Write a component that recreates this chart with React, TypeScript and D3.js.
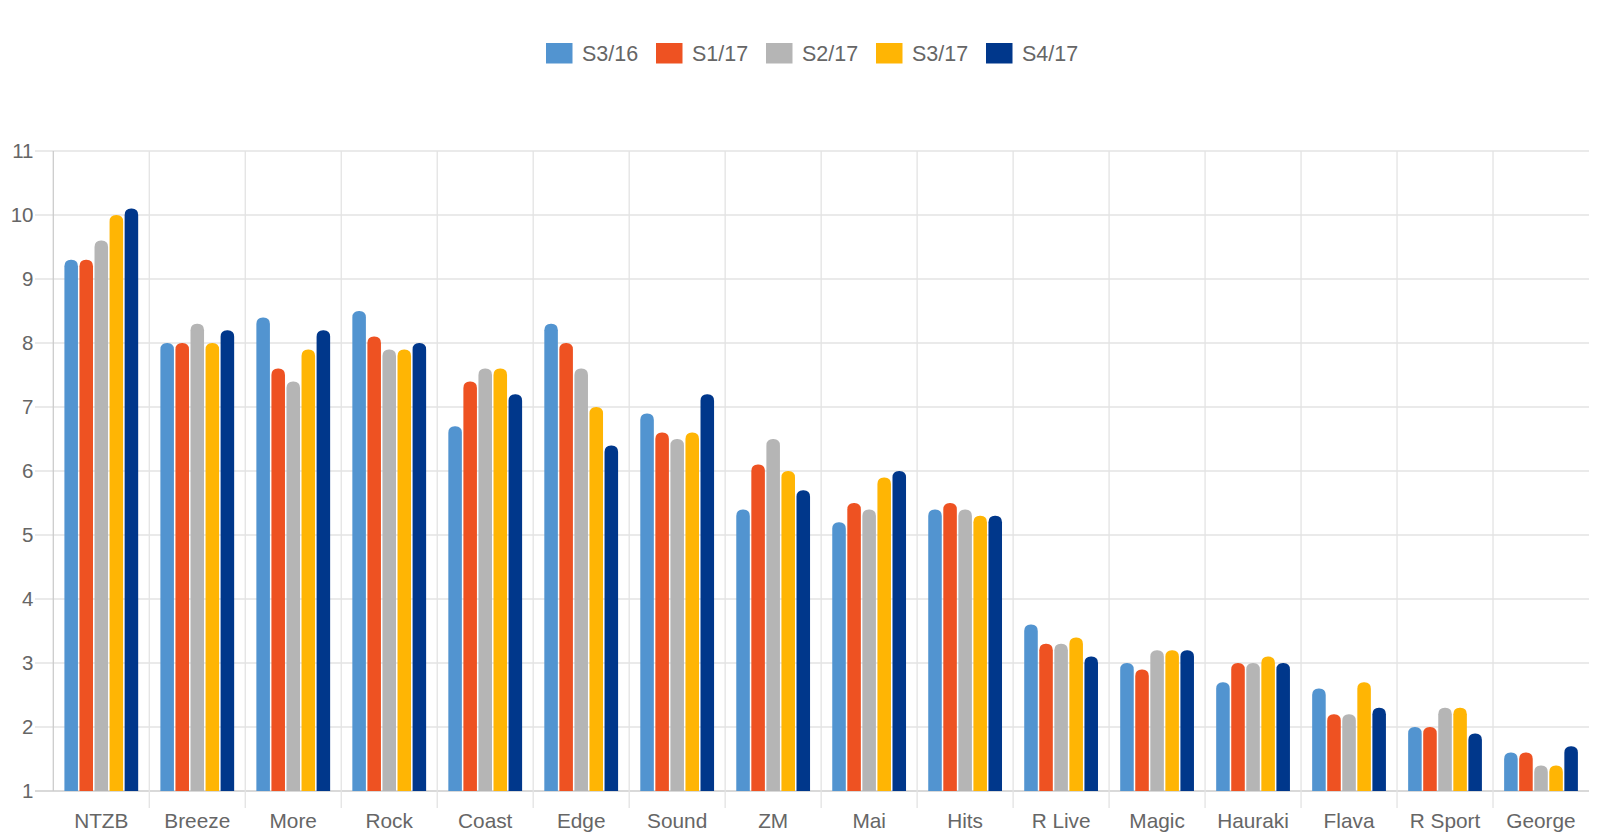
import React from "react";
import * as d3 from "d3";

const categories = ["NTZB", "Breeze", "More", "Rock", "Coast", "Edge", "Sound", "ZM", "Mai", "Hits", "R Live", "Magic", "Hauraki", "Flava", "R Sport", "George"];
const seriesNames = ["S3/16", "S1/17", "S2/17", "S3/17", "S4/17"];
const seriesColors = ["#5294D0", "#EE5222", "#B5B5B5", "#FFB504", "#00378B"];

const s316 = [9.3, 8.0, 8.4, 8.5, 6.7, 8.3, 6.9, 5.4, 5.2, 5.4, 3.6, 3.0, 2.7, 2.6, 2.0, 1.6];
const s117 = [9.3, 8.0, 7.6, 8.1, 7.4, 8.0, 6.6, 6.1, 5.5, 5.5, 3.3, 2.9, 3.0, 2.2, 2.0, 1.6];
const s217 = [9.6, 8.3, 7.4, 7.9, 7.6, 7.6, 6.5, 6.5, 5.4, 5.4, 3.3, 3.2, 3.0, 2.2, 2.3, 1.4];
const s317 = [10.0, 8.0, 7.9, 7.9, 7.6, 7.0, 6.6, 6.0, 5.9, 5.3, 3.4, 3.2, 3.1, 2.7, 2.3, 1.4];
const s417 = [10.1, 8.2, 8.2, 8.0, 7.2, 6.4, 7.2, 5.7, 6.0, 5.3, 3.1, 3.2, 3.0, 2.3, 1.9, 1.7];
const seriesValues = [s316, s117, s217, s317, s417];

const yTicks = [1, 2, 3, 4, 5, 6, 7, 8, 9, 10, 11];

const W = 1600;
const H = 837;
const left = 53.3;
const right = 1589;
const top = 151;
const bottom = 791;
const font = "'Liberation Sans', Arial, Helvetica, sans-serif";

// bar with rounded top corners only
function topRounded(x: number, y: number, w: number, h: number, r: number) {
  const rr = Math.min(r, w / 2, h);
  return `M${x},${y + h}V${y + rr}Q${x},${y} ${x + rr},${y}H${x + w - rr}Q${x + w},${y} ${x + w},${y + rr}V${y + h}Z`;
}

export default function App() {
  const x = d3.scaleBand<string>().domain(categories).range([left, right]).padding(0);
  const bw = x.bandwidth();
  const inner = d3
    .scaleBand<number>()
    .domain(d3.range(seriesNames.length))
    .range([bw * 0.1, bw * 0.9])
    .padding(0.1);
  const y = d3.scaleLinear().domain([1, 11]).range([bottom, top]);

  const legendStart = 546;
  const legendStep = 110;

  return (
    <svg width={W} height={H} style={{ position: "absolute", left: 0, top: 0, background: "#fff" }}>
      {/* legend */}
      <g fontFamily={font} fontSize={21.5} fill="#666">
        {seriesNames.map((s, i) => (
          <g key={s} transform={`translate(${legendStart + i * legendStep},0)`}>
            <rect x={0} y={43} width={26.5} height={20.5} fill={seriesColors[i]} />
            <text x={36} y={53.5} dy="0.35em">{s}</text>
          </g>
        ))}
      </g>

      {/* horizontal grid */}
      <g>
        {yTicks.map((t) => (
          <line key={t} x1={35} x2={right} y1={y(t)} y2={y(t)} stroke={t === 1 ? "#cccccc" : "#e3e3e3"} strokeWidth={1.3} />
        ))}
      </g>
      {/* vertical grid */}
      <g>
        {categories.map((c, i) => (
          <line key={c} x1={x(c)!} x2={x(c)!} y1={top} y2={i === 0 ? bottom : bottom + 17} stroke={i === 0 ? "#cccccc" : "#e3e3e3"} strokeWidth={1.3} />
        ))}
      </g>

      {/* y labels */}
      <g fontFamily={font} fontSize={20.5} fill="#666" textAnchor="end">
        {yTicks.map((t) => (
          <text key={t} x={33.5} y={y(t)} dy="0.35em">{t}</text>
        ))}
      </g>

      {/* bars */}
      <g>
        {categories.map((c, ci) => (
          <g key={c} transform={`translate(${x(c)},0)`}>
            {seriesValues.map((vals, si) => {
              const v = vals[ci];
              const bx = inner(si)!;
              const by = y(v);
              return (
                <path
                  key={si}
                  d={topRounded(bx, by, inner.bandwidth(), bottom - by, 6.5)}
                  fill={seriesColors[si]}
                />
              );
            })}
          </g>
        ))}
      </g>

      {/* x labels */}
      <g fontFamily={font} fontSize={20.8} fill="#666" textAnchor="middle">
        {categories.map((c) => (
          <text key={c} x={x(c)! + bw / 2} y={827.5}>{c}</text>
        ))}
      </g>
    </svg>
  );
}
